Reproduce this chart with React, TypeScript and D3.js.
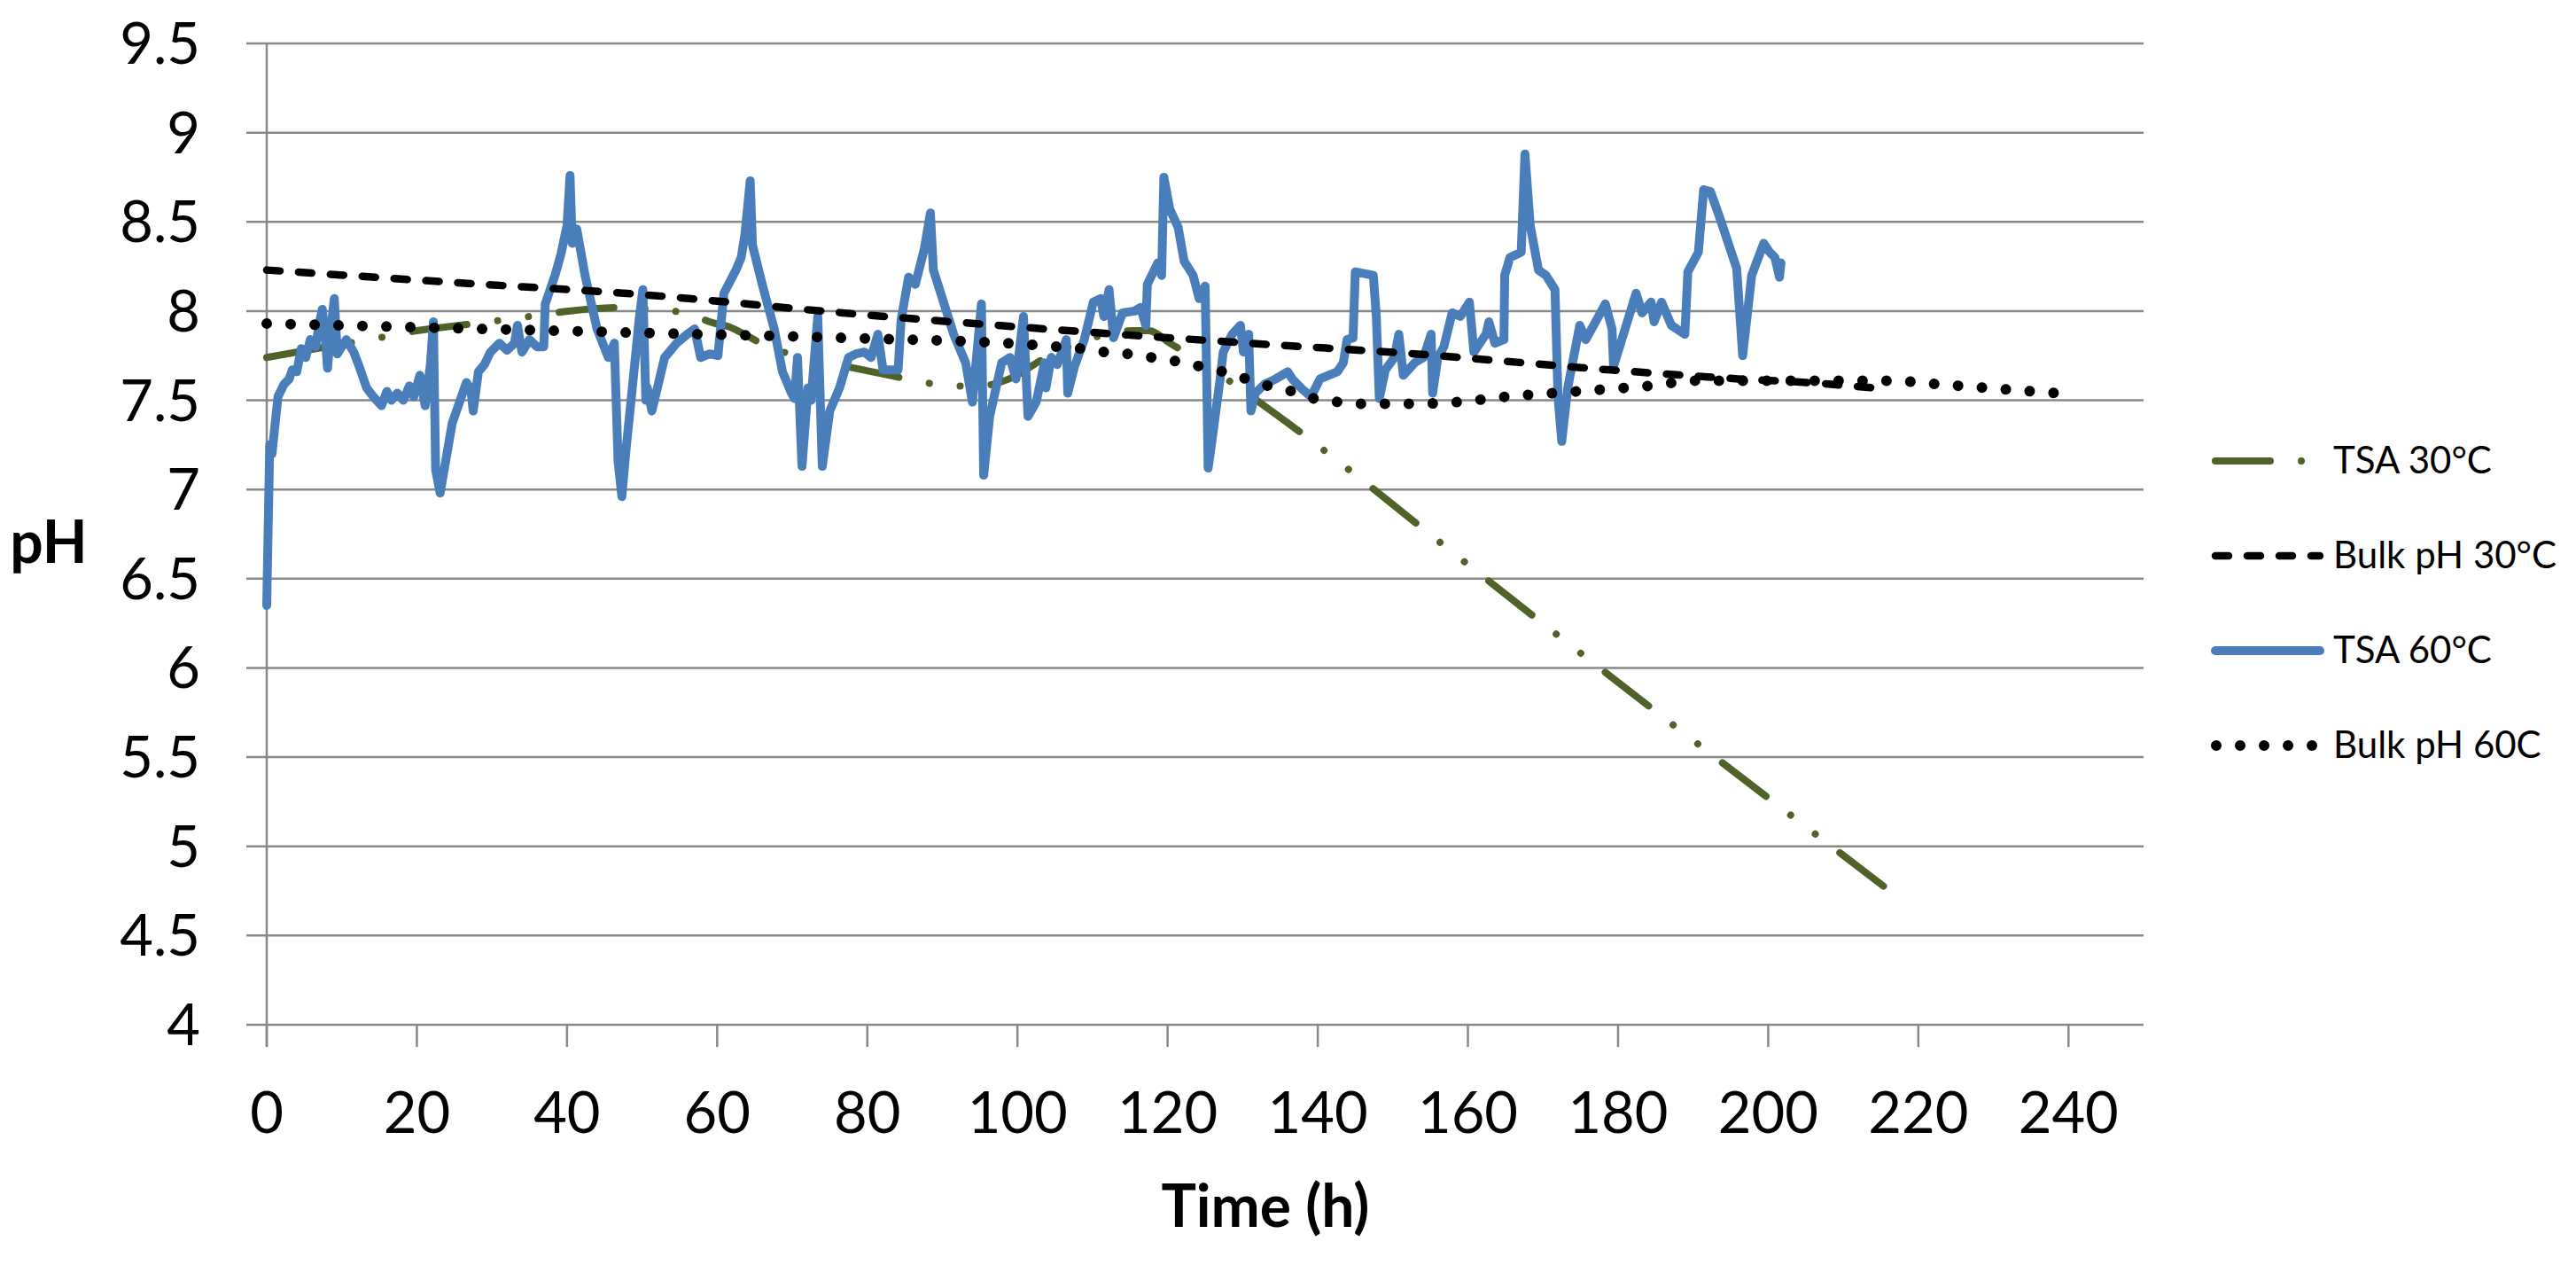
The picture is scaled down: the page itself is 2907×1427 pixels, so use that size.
import React from 'react';
import * as d3 from 'd3';

type Pt = [number, number];

// axis ticks
const yTicks = [4, 4.5, 5, 5.5, 6, 6.5, 7, 7.5, 8, 8.5, 9, 9.5];
const xTicks = [0, 20, 40, 60, 80, 100, 120, 140, 160, 180, 200, 220, 240];

// TSA 30°C (hours, pH)
const tsa30: Pt[] = [
  [0, 7.74], [8, 7.8], [15, 7.85], [20, 7.89], [27.7, 7.93], [35, 7.97], [40.2, 8.0],
  [47.3, 8.02], [51.3, 8.01], [55.7, 7.99], [59.8, 7.93], [61, 7.92], [66.8, 7.8],
  [74.9, 7.71], [79.5, 7.67], [86.5, 7.61], [91, 7.58], [95, 7.58], [98.9, 7.62],
  [103.8, 7.74], [110, 7.85], [115.5, 7.89], [117.5, 7.89], [120.3, 7.82], [124.2, 7.72],
  [127.8, 7.62], [134.5, 7.42], [140.5, 7.23], [147.2, 7.01], [156.4, 6.7], [216.2, 4.75],
];

// Bulk pH 30°C
const bulk30: Pt[] = [
  [0, 8.23], [25, 8.16], [50.7, 8.09], [76.7, 7.99], [103.6, 7.9], [130.8, 7.82],
  [152.9, 7.76], [179, 7.67], [196, 7.62], [205, 7.6], [214, 7.57],
];

// TSA 60°C (probe record)
const tsa60: Pt[] = [
  [0, 6.35], [0.4, 7.25], [0.7, 7.2], [1.0, 7.32], [1.5, 7.52], [2.3, 7.59], [3.0, 7.62],
  [3.4, 7.67], [4.0, 7.66], [4.6, 7.79], [5.2, 7.74], [5.8, 7.84], [6.5, 7.8], [7.0, 7.93],
  [7.4, 8.01], [7.8, 7.85], [8.1, 7.68], [8.5, 7.88], [9.0, 8.07], [9.4, 7.76], [10.0, 7.8],
  [10.6, 7.84], [11.6, 7.77], [12.4, 7.68], [13.3, 7.57], [14.2, 7.52], [15.3, 7.47],
  [16.0, 7.55], [16.6, 7.5], [17.4, 7.54], [18.2, 7.5], [19.0, 7.58], [19.6, 7.52],
  [20.4, 7.64], [21.1, 7.47], [21.8, 7.7], [22.2, 7.94], [22.5, 7.11], [23.1, 6.98],
  [23.8, 7.15], [24.7, 7.37], [25.6, 7.48], [26.6, 7.6], [27.2, 7.56], [27.5, 7.44],
  [28.2, 7.66], [29.0, 7.7], [29.8, 7.77], [31.0, 7.82], [32.0, 7.78], [33.0, 7.82],
  [33.4, 7.92], [34.0, 7.77], [35.0, 7.84], [36.0, 7.8], [36.9, 7.8], [37.1, 8.04],
  [38.4, 8.2], [39.2, 8.32], [40.0, 8.48], [40.4, 8.76], [40.7, 8.38], [41.3, 8.46],
  [42.4, 8.2], [44.0, 7.9], [45.5, 7.74], [46.3, 7.82], [46.8, 7.16], [47.3, 6.96],
  [47.9, 7.24], [48.7, 7.57], [49.6, 7.95], [50.1, 8.12], [50.5, 7.5], [50.7, 7.57],
  [51.3, 7.44], [53.0, 7.74], [54.6, 7.82], [56.0, 7.87], [57.0, 7.9], [57.4, 7.82],
  [57.8, 7.74], [59.0, 7.76], [60.1, 7.75], [60.9, 8.1], [62.5, 8.23], [63.2, 8.3],
  [63.7, 8.43], [64.4, 8.73], [64.7, 8.37], [66.0, 8.15], [67.6, 7.9], [68.7, 7.66],
  [69.9, 7.54], [70.3, 7.51], [70.7, 7.74], [71.3, 7.13], [72.1, 7.57], [72.5, 7.5],
  [73.4, 7.97], [74.0, 7.13], [75.0, 7.44], [76.3, 7.57], [77.5, 7.74], [78.5, 7.76],
  [79.6, 7.77], [80.5, 7.74], [81.4, 7.87], [82.1, 7.67], [84.1, 7.67], [84.5, 7.95],
  [85.5, 8.19], [86.4, 8.15], [87.6, 8.35], [88.4, 8.55], [88.8, 8.23], [90.0, 8.07],
  [91.5, 7.87], [93.1, 7.71], [94.0, 7.49], [95.2, 8.04], [95.5, 7.08], [96.3, 7.41],
  [97.9, 7.71], [99.0, 7.74], [99.8, 7.62], [100.8, 7.97], [101.4, 7.41], [102.5, 7.49],
  [103.6, 7.71], [103.8, 7.57], [104.5, 7.74], [105.3, 7.7], [106.5, 7.84], [106.7, 7.54],
  [107.6, 7.69], [108.9, 7.84], [110.1, 8.05], [111.1, 8.07], [111.5, 7.97], [112.2, 8.12],
  [112.8, 7.85], [114.0, 7.99], [115.6, 8.0], [116.4, 8.02], [117.1, 7.92], [117.3, 8.15],
  [118.7, 8.27], [119.2, 8.2], [119.5, 8.75], [120.3, 8.57], [121.4, 8.47], [122.2, 8.28],
  [123.4, 8.2], [124.2, 8.07], [125.0, 8.14], [125.2, 7.64], [125.4, 7.12], [125.8, 7.24],
  [127.0, 7.62], [127.4, 7.77], [128.6, 7.87], [129.7, 7.92], [130.1, 7.77], [130.8, 7.87],
  [131.1, 7.44], [131.7, 7.54], [132.9, 7.59], [134.4, 7.62], [136.0, 7.66], [136.6, 7.62],
  [138.0, 7.56], [139.1, 7.52], [140.3, 7.62], [142.6, 7.66], [143.4, 7.71], [143.9, 7.84],
  [144.7, 7.85], [145.0, 8.22], [147.4, 8.2], [147.8, 7.97], [148.2, 7.51], [149.0, 7.67],
  [150.2, 7.74], [150.8, 7.87], [151.4, 7.64], [152.9, 7.71], [154.1, 7.74], [155.1, 7.87],
  [155.3, 7.54], [156.0, 7.74], [156.8, 7.8], [157.9, 7.99], [159.0, 7.97], [160.2, 8.05],
  [160.8, 7.77], [162.4, 7.87], [162.8, 7.94], [163.6, 7.82], [164.8, 7.84], [164.9, 8.2],
  [165.6, 8.3], [167.1, 8.33], [167.6, 8.88], [168.3, 8.48], [169.4, 8.23], [170.4, 8.2],
  [171.6, 8.12], [172.0, 7.52], [172.5, 7.27], [173.3, 7.57], [174.9, 7.92], [175.7, 7.84],
  [177.4, 7.97], [178.3, 8.04], [179.2, 7.9], [179.4, 7.69], [180.5, 7.84], [182.4, 8.1],
  [183.2, 7.99], [184.4, 8.05], [184.8, 7.94], [185.8, 8.05], [187.1, 7.92], [188.9, 7.87],
  [189.3, 8.22], [190.7, 8.33], [191.4, 8.68], [192.3, 8.67], [193.5, 8.53], [195.8, 8.24],
  [196.6, 7.75], [197.8, 8.2], [199.4, 8.38], [200.2, 8.33], [200.9, 8.3], [201.5, 8.19],
  [201.7, 8.27],
];

// Bulk pH 60C
const bulk60: Pt[] = [
  [0, 7.93], [48, 7.88], [76.7, 7.85], [102.2, 7.81], [105.3, 7.8], [108.4, 7.79],
  [111.7, 7.77], [114.7, 7.76], [117.9, 7.74], [121, 7.72], [124.3, 7.69], [127.4, 7.66],
  [130.5, 7.62], [133.5, 7.58], [136.6, 7.55], [139.5, 7.51], [142.8, 7.49], [146.1, 7.48],
  [152.5, 7.48], [158.6, 7.49], [165.1, 7.52], [171.4, 7.54], [177.8, 7.56], [184, 7.58],
  [190.5, 7.61], [200, 7.61], [208, 7.61], [216.1, 7.61], [222.6, 7.59], [228.9, 7.57],
  [235.1, 7.55], [238.4, 7.54],
];

const legendLabels = ['TSA 30°C', 'Bulk pH 30°C', 'TSA 60°C', 'Bulk pH 60C'];

const GREEN = '#4f6228';
const BLUE = '#4a7ebb';
const GRID = '#898989';
const FONT = 'Lato, "Open Sans", sans-serif';

const styles = [
  { stroke: GREEN, width: 8, dash: '62 35 0.01 35 0.01 35', cap: 'round' },
  { stroke: '#000', width: 8.5, dash: '15 21', cap: 'round' },
  { stroke: BLUE, width: 10, dash: undefined, cap: 'round' },
  { stroke: '#000', width: 12, dash: '0.01 27', cap: 'round' },
];

export default function App() {
  const x = d3.scaleLinear().domain([0, 250]).range([301, 2419]);
  const y = d3.scaleLinear().domain([4, 9.5]).range([1156, 49]);

  const smooth = d3.line<Pt>().x(d => x(d[0])).y(d => y(d[1])).curve(d3.curveMonotoneX);
  const raw = d3.line<Pt>().x(d => x(d[0])).y(d => y(d[1]));

  const series = [
    { data: tsa30, path: smooth(tsa30), st: styles[0] },
    { data: tsa60, path: raw(tsa60), st: styles[2] },
    { data: bulk30, path: smooth(bulk30), st: styles[1] },
    { data: bulk60, path: smooth(bulk60), st: styles[3] },
  ];

  const legendRows = [520, 627, 734, 841];

  return (
    <svg
      width={2907}
      height={1427}
      style={{ position: 'absolute', left: 0, top: 0, background: '#fff' }}
    >
      <rect x={0} y={0} width={2907} height={1427} fill="#fff" />

      {/* horizontal gridlines + y tick labels */}
      {yTicks.map(t => (
        <g key={'y' + t}>
          <line x1={278} x2={2419} y1={y(t)} y2={y(t)} stroke={GRID} strokeWidth={2.5} />
          <text
            x={226}
            y={y(t) + 23}
            textAnchor="end"
            fontFamily={FONT}
            fontSize={65}
            fill="#000"
          >
            {String(t)}
          </text>
        </g>
      ))}

      {/* y axis line */}
      <line x1={x(0)} x2={x(0)} y1={y(9.5)} y2={y(4) + 25} stroke={GRID} strokeWidth={2.5} />

      {/* x ticks + labels */}
      {xTicks.map(t => (
        <g key={'x' + t}>
          <line x1={x(t)} x2={x(t)} y1={y(4)} y2={y(4) + 25} stroke={GRID} strokeWidth={2.5} />
          <text
            x={x(t)}
            y={1278}
            textAnchor="middle"
            fontFamily={FONT}
            fontSize={65}
            fill="#000"
          >
            {String(t)}
          </text>
        </g>
      ))}

      {/* series */}
      {series.map((s, i) => (
        <path
          key={'s' + i}
          d={s.path || ''}
          fill="none"
          stroke={s.st.stroke}
          strokeWidth={s.st.width}
          strokeDasharray={s.st.dash}
          strokeLinecap={s.st.cap as any}
          strokeLinejoin="round"
        />
      ))}

      {/* axis titles */}
      <text x={55} y={635} textAnchor="middle" fontFamily={FONT} fontWeight="bold" fontSize={66}>
        pH
      </text>
      <text x={1428} y={1384} textAnchor="middle" fontFamily={FONT} fontWeight="bold" fontSize={66}>
        Time (h)
      </text>

      {/* legend */}
      {legendLabels.map((label, i) => {
        const st = styles[i];
        const ly = legendRows[i];
        const x1 = i === 3 ? 2501 : 2500;
        const x2 = i === 3 ? 2615 : 2618;
        return (
          <g key={'l' + i}>
            <line
              x1={x1}
              x2={x2}
              y1={ly}
              y2={ly}
              stroke={st.stroke}
              strokeWidth={st.width}
              strokeDasharray={st.dash}
              strokeLinecap={st.cap as any}
            />
            <text x={2633} y={ly + 14} fontFamily={FONT} fontSize={42} fill="#000">
              {label}
            </text>
          </g>
        );
      })}
    </svg>
  );
}
